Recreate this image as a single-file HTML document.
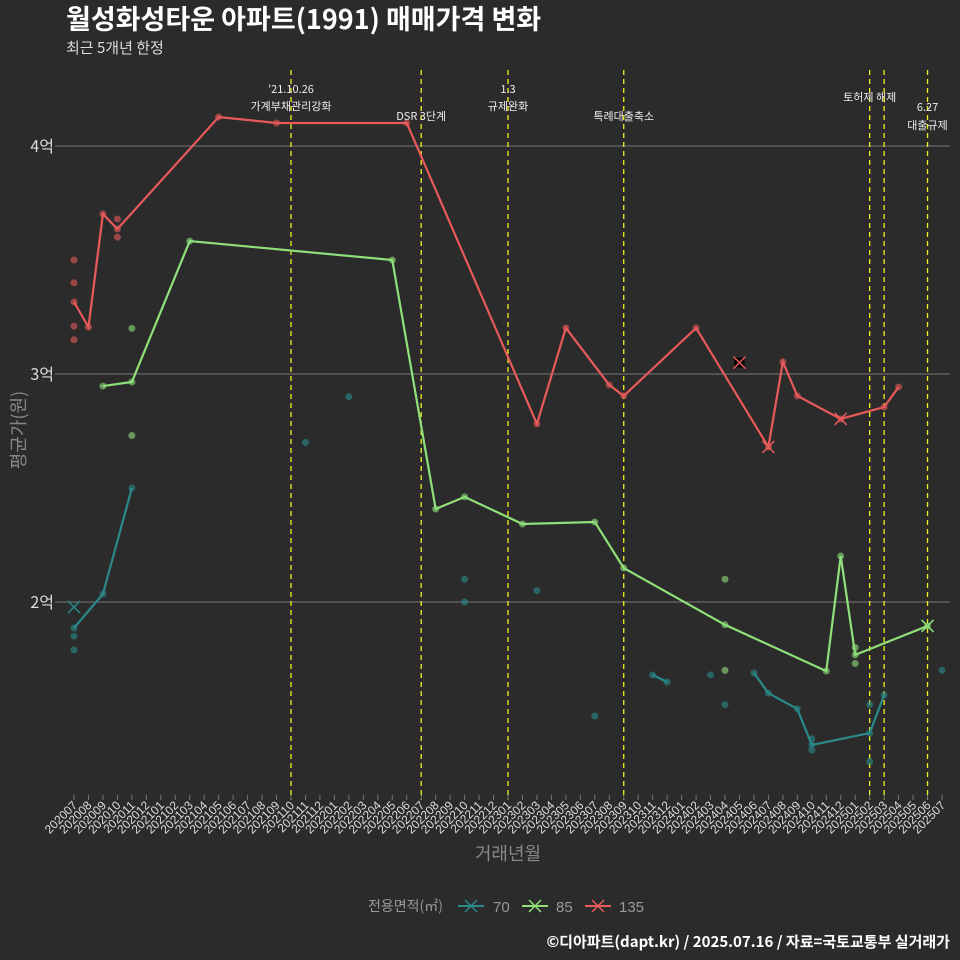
<!DOCTYPE html>
<html><head><meta charset="utf-8">
<style>
body{margin:0;background:#2b2b2b;}
svg{display:block;font-family:"Liberation Sans","Noto Sans CJK KR",sans-serif;}
</style></head>
<body>
<svg id="c" width="960" height="960" viewBox="0 0 960 960">
<rect width="960" height="960" fill="#2b2b2b"/>
<text x="66" y="29" fill="#fff" font-size="27" font-weight="bold" font-family="Noto Sans CJK KR, sans-serif">월성화성타운 아파트(1991) 매매가격 변화</text>
<text x="66" y="53" fill="#ddd" font-size="15" font-family="Noto Sans CJK KR, sans-serif">최근 5개년 한정</text>
<g id="grid"></g><g id="vlines"></g><g id="series"></g><g id="xaxis"></g>
<text x="20" y="430" fill="#888" font-size="18" font-family="Noto Sans CJK KR, sans-serif" transform="rotate(-90 20 430)" text-anchor="middle" dominant-baseline="middle">평균가(원)</text>
<text x="508" y="860" fill="#888" font-size="18" font-family="Noto Sans CJK KR, sans-serif" text-anchor="middle">거래년월</text>
<g>
<text x="368" y="911" fill="#999" font-size="14" font-family="Noto Sans CJK KR, sans-serif">전용면적(㎡)</text>
<g><line x1="458" y1="906" x2="484" y2="906" stroke="#2a8a8a" stroke-width="2"/><path d="M465 900l12 12M477 900l-12 12" stroke="#2a8a8a" stroke-width="1.5"/><text x="493" y="912" fill="#999" font-size="15">70</text></g>
<g><line x1="522" y1="906" x2="548" y2="906" stroke="#90e07a" stroke-width="2"/><path d="M529 900l12 12M541 900l-12 12" stroke="#90e07a" stroke-width="1.5"/><text x="556" y="912" fill="#999" font-size="15">85</text></g>
<g><line x1="585" y1="906" x2="611" y2="906" stroke="#e85a5a" stroke-width="2"/><path d="M592 900l12 12M604 900l-12 12" stroke="#e85a5a" stroke-width="1.5"/><text x="619" y="912" fill="#999" font-size="15">135</text></g>
</g>
<text x="950" y="947" fill="#fff" font-size="15" font-weight="bold" font-family="Noto Sans CJK KR, sans-serif" text-anchor="end">©디아파트(dapt.kr) / 2025.07.16 / 자료=국토교통부 실거래가</text>
</svg>
<script>
const months=[];for(let y=2020,m=7;!(y===2025&&m===8);){months.push(y+String(m).padStart(2,'0'));m++;if(m>12){m=1;y++;}}
const yTicks=[2,3,4];
const yTickLabels=['2억','3억','4억'];
const eventIdx=[15,24,30,38,55,56,59];
const eventLabels=[["'21.10.26","가계부채관리강화"],["DSR 3단계"],["1.3","규제완화"],["특례대출축소"],["토허제 해제"],[],["6.27","대출규제"]];
const eventLabelY=[[93,110],[120],[93,110],[120],[101],[],[111,129]];
const redIdx=[0,1,2,3,10,14,23,32,34,37,38,43,48,49,50,53,56,57];
const redVal=[3.316,3.206,3.702,3.636,4.127,4.101,4.101,2.781,3.202,2.952,2.904,3.202,2.68,3.053,2.904,2.803,2.855,2.943];
const redPtIdx=[0,0,0,0,3,3];
const redPtVal=[3.5,3.4,3.21,3.15,3.68,3.6];
const greenIdx=[2,4,8,22,25,27,31,36,38,45,52,53,54,59];
const greenVal=[2.947,2.965,3.583,3.5,2.408,2.461,2.342,2.351,2.149,1.9,1.697,2.202,1.768,1.895];
const greenPtIdx=[4,4,45,45,54,54];
const greenPtVal=[3.2,2.73,2.1,1.7,1.73,1.8];
const tealSegIdx=[[0,2,4],[40,41],[47,48,50,51,55,56]];
const tealSegVal=[[1.886,2.035,2.5],[1.68,1.649],[1.689,1.6,1.531,1.373,1.425,1.592]];
const tealPtIdx=[0,0,16,19,27,27,32,36,44,45,51,51,55,55,60];
const tealPtVal=[1.85,1.79,2.7,2.9,2.1,2.0,2.05,1.5,1.68,1.55,1.4,1.35,1.55,1.3,1.7];
const crosses=[[0,1.978,'#2a8a8a','none'],[46,3.05,'#e85a5a','#000'],[48,2.68,'#e85a5a','none'],[53,2.803,'#e85a5a','none'],[59,1.895,'#90e07a','none']];
const X=i=>74+i*(942-74)/60;
const Y=v=>602-(v-2)*228;
const NS='http://www.w3.org/2000/svg';
function mk(p,t,a){const e=document.createElementNS(NS,t);for(const k in a)e.setAttribute(k,a[k]);p.appendChild(e);return e;}
const grid=document.getElementById('grid');
yTicks.forEach((v,k)=>{
 const l=mk(grid,'line',{x1:60,x2:950,y1:Y(v),y2:Y(v),stroke:'#777','stroke-width':1});
 
 
 mk(grid,'line',{x1:55,x2:60,y1:Y(v),y2:Y(v),stroke:'#777'});
 const t=mk(grid,'text',{x:54,y:Y(v)+6,fill:'#ddd','font-size':16,'text-anchor':'end','font-family':'Noto Sans CJK KR, sans-serif'});t.textContent=yTickLabels[k];
 
 
});
const vl=document.getElementById('vlines');
eventIdx.forEach((i,k)=>{
 const l=mk(vl,'line',{x1:X(i),x2:X(i),y1:70,y2:800,stroke:'#f0f020','stroke-width':1.3,'stroke-dasharray':'5,4'});
 
 
 eventLabels[k].forEach((s,j)=>{const t=mk(vl,'text',{x:X(i),y:eventLabelY[k][j],fill:'#eee','font-size':11,'text-anchor':'middle','font-family':'Noto Sans CJK KR, sans-serif'});t.textContent=s;
 
 });
});
const S=document.getElementById('series');
function line(idx,val,col,name){const p=mk(S,'polyline',{points:idx.map((i,k)=>X(i)+','+Y(val[k])).join(' '),fill:'none',stroke:col,'stroke-width':2.2});
 
 
 idx.forEach((i,k)=>{const c=mk(S,'circle',{cx:X(i),cy:Y(val[k]),r:3.5,fill:col,'fill-opacity':0.6});
 
 });}
function pts(idx,val,col,name){idx.forEach((i,k)=>{const c=mk(S,'circle',{cx:X(i),cy:Y(val[k]),r:3.5,fill:col,'fill-opacity':0.6});
 
 });}
pts(tealPtIdx,tealPtVal,'#2a8a8a','point-70');
tealSegIdx.forEach((s,k)=>line(s,tealSegVal[k],'#2a8a8a','line-70'));
pts(greenPtIdx,greenPtVal,'#90e07a','point-85');
line(greenIdx,greenVal,'#90e07a','line-85');
pts(redPtIdx,redPtVal,'#e85a5a','point-135');
line(redIdx,redVal,'#e85a5a','line-135');
crosses.forEach(c=>{const x=X(c[0]),y=Y(c[1]);
 if(c[3]!=='none'){mk(S,'rect',{x:x-5,y:y-5,width:10,height:10,fill:c[3]});}
 const p=mk(S,'path',{d:`M${x-6} ${y-6}L${x+6} ${y+6}M${x+6} ${y-6}L${x-6} ${y+6}`,stroke:c[2],'stroke-width':1.5});
 
 });
const xa=document.getElementById('xaxis');
months.forEach((m,i)=>{mk(xa,'line',{x1:X(i),x2:X(i),y1:795,y2:800,stroke:'#777'});
 const t=mk(xa,'text',{x:X(i)+4,y:806,fill:'#ddd','font-size':12,'text-anchor':'end',transform:`rotate(-45 ${X(i)+4} 806)`});
 t.textContent=m;
 
 });
</script>
</body></html>
